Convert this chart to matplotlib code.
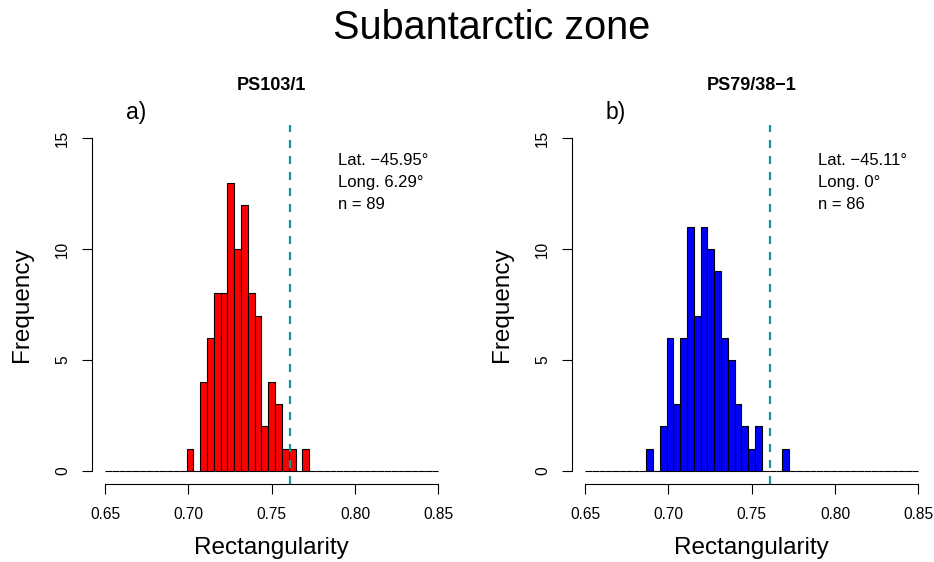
import numpy as np
import matplotlib
matplotlib.use('Agg')
import matplotlib.pyplot as plt

plt.rcParams['font.family'] = ['Liberation Sans', 'DejaVu Sans']

# Histogram breaks: 49 equal bins between 0.65 and 0.85
breaks = np.linspace(0.65, 0.85, 50)

# Counts per bin
counts_a = [0] * 12 + [1, 0, 4, 6, 8, 8, 13, 10, 12, 8, 7, 2, 4, 3, 1, 1, 0, 1] + [0] * 19
counts_b = [0] * 9 + [1, 0, 2, 6, 3, 6, 11, 7, 11, 10, 9, 6, 5, 3, 2, 1, 2, 0, 0, 0, 1] + [0] * 19

panel_titles = ['PS103/1', 'PS79/38\u22121']
panel_letters = ['a)', 'b)']
colors = ['#ff0000', '#0000ff']
info = [['Lat. \u221245.95\u00b0', 'Long. 6.29\u00b0', 'n = 89'],
        ['Lat. \u221245.11\u00b0', 'Long. 0\u00b0', 'n = 86']]
ref_value = 0.761

xticks = [0.65, 0.70, 0.75, 0.80, 0.85]
yticks = [0, 5, 10, 15]

W, H = 934, 562
fig = plt.figure(figsize=(W / 100, H / 100), dpi=100)

lefts = [91.7, 571.7]
for i, counts in enumerate([counts_a, counts_b]):
    x0 = lefts[i]
    ax = fig.add_axes([x0 / W, 1 - 484 / H, 360 / W, 359 / H])
    ax.bar(breaks[:-1], counts, width=np.diff(breaks), align='edge',
           color=colors[i], edgecolor='black', linewidth=0.8)
    ax.axvline(ref_value, color='#129595', lw=1.6, linestyle=(0, (3.6, 3.6)))
    ax.set_xlim(0.642, 0.858)
    ax.set_ylim(-0.6, 15.6)
    for s in ['top', 'right']:
        ax.spines[s].set_visible(False)
    ax.spines['left'].set_bounds(0, 15)
    ax.spines['bottom'].set_bounds(0.65, 0.85)
    ax.spines['left'].set_linewidth(0.8)
    ax.spines['bottom'].set_linewidth(0.8)
    ax.set_xticks(xticks)
    ax.set_xticklabels(['%.2f' % v for v in xticks], fontsize=11.2)
    ax.set_yticks(yticks)
    ax.set_yticklabels([str(v) for v in yticks], fontsize=11.2, rotation=90, va='center')
    ax.tick_params(axis='both', length=7, width=0.8, direction='out')
    ax.tick_params(axis='x', pad=9.5)
    ax.tick_params(axis='y', pad=8.5)
    for j, line in enumerate(info[i]):
        ax.text(0.79, 14 - j, line, fontsize=12, ha='left', va='center')

    cx = (x0 + 180) / W
    fig.text(cx, 1 - 85 / H, panel_titles[i], fontsize=13, fontweight='bold',
             ha='center', va='center')
    fig.text((x0 + 34) / W, 1 - 113 / H, panel_letters[i], fontsize=16.5,
             ha='left', va='center')
    fig.text(cx, 1 - 548 / H, 'Rectangularity', fontsize=17.5, ha='center', va='center')
    fig.text((x0 - 70) / W, 1 - 305 / H, 'Frequency', fontsize=17.5, rotation=90,
             ha='center', va='center')

fig.text(492 / W, 1 - 28 / H, 'Subantarctic zone', fontsize=28.5, ha='center', va='center')

plt.savefig('out.png', dpi=100)
